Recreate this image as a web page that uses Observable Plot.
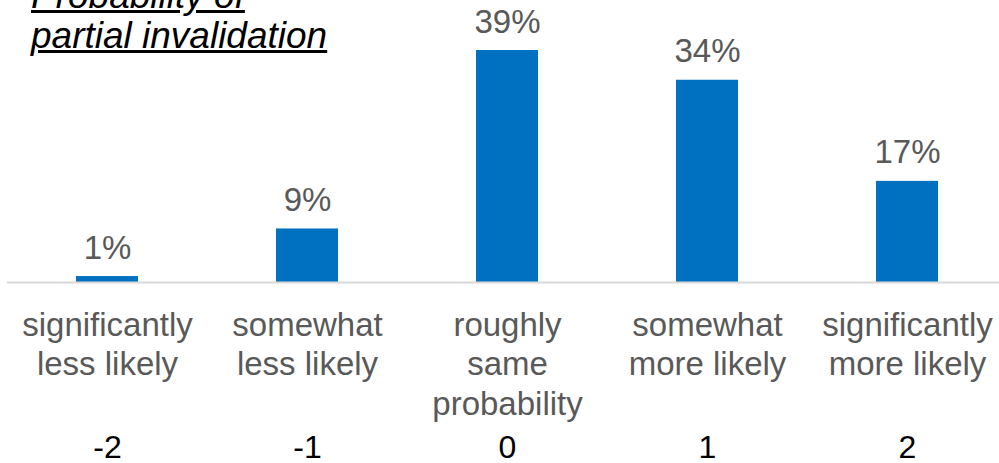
<!DOCTYPE html>
<html>
<head>
<meta charset="utf-8">
<script src="https://cdn.jsdelivr.net/npm/d3@7"></script>
<script src="https://cdn.jsdelivr.net/npm/@observablehq/plot@0.6"></script>
<style>
  html, body { margin: 0; padding: 0; background: #fff; overflow: hidden; }
  #wrap { position: relative; width: 999px; height: 463px; }
  #title {
    position: absolute; left: 31px; top: -24px;
    font-family: "Liberation Sans", Arial, sans-serif;
    font-size: 37px; line-height: 40px; font-style: italic;
    text-decoration: underline; color: #000; white-space: nowrap;
  }
</style>
</head>
<body>
<div id="wrap">
  <div id="chart"></div>
  <div id="title">Probability of<br>partial invalidation</div>
</div>
<script>
// Response scale, from much less likely to much more likely
const codes = [-2, -1, 0, 1, 2];
const labels = [
  "significantly\nless likely",
  "somewhat\nless likely",
  "roughly\nsame\nprobability",
  "somewhat\nmore likely",
  "significantly\nmore likely"
];
// Share of respondents (%)
const shares = [1, 9, 39, 34, 17];

const rows = codes.map((c, i) => ({code: c, label: labels[i], share: shares[i]}));

const font = "'Liberation Sans', Arial, sans-serif";

const chart = Plot.plot({
  width: 999,
  height: 463,
  marginLeft: 7,
  marginRight: 0,
  marginTop: 0,
  marginBottom: 181,
  style: {fontFamily: font, background: "#fff"},
  x: {domain: codes, range: [7, 1007], paddingInner: 0.69, paddingOuter: 0.345, axis: null},
  y: {domain: [0, 39], range: [282, 50], axis: null},
  marks: [
    Plot.barY(rows, {x: "code", y: "share", fill: "#0070C0"}),
    Plot.ruleY([0], {stroke: "#d9d9d9", strokeWidth: 2}),
    Plot.text(rows, {
      x: "code", y: "share", text: d => `${d.share}%`,
      lineAnchor: "bottom", dy: -18, fontSize: 33, fill: "#595959"
    }),
    Plot.text(rows, {
      x: "code", text: "label", frameAnchor: "bottom",
      lineAnchor: "top", dy: 25, fontSize: 33, lineHeight: 1.2, fill: "#595959"
    }),
    Plot.text(rows, {
      x: "code", text: d => String(d.code), frameAnchor: "bottom",
      lineAnchor: "bottom", dy: 175, fontSize: 32, fill: "#000"
    })
  ]
});

document.getElementById("chart").appendChild(chart);
</script>
</body>
</html>
